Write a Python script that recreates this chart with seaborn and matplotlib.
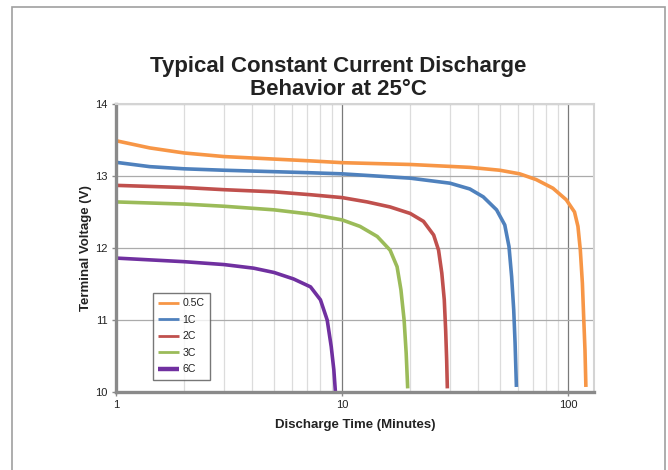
import seaborn as sns
import pandas as pd
import numpy as np
import matplotlib
matplotlib.use("Agg")
import matplotlib.pyplot as plt
from matplotlib.patches import Rectangle
from matplotlib.ticker import LogLocator, FixedLocator, NullFormatter

# discharge curves (minutes, volts)
rates = ["0.5C", "1C", "2C", "3C", "6C"]
colors = ["#F79646", "#4F81BD", "#C0504D", "#9BBB59", "#7030A0"]

t_05c = [1, 1.41, 2, 3, 5, 7.25, 10, 20, 36.7, 49.8, 61, 72.2, 85.6, 98, 106.6, 110.4, 113.1, 115.5, 117, 118.6, 119.7]
v_05c = [13.49, 13.39, 13.32, 13.27, 13.235, 13.21, 13.185, 13.16, 13.12, 13.08, 13.03, 12.95, 12.83, 12.67, 12.5, 12.3, 11.97, 11.51, 11.05, 10.58, 10.07]

t_1c = [1, 1.41, 2, 3, 5, 7.25, 10, 20, 30, 36.7, 42.1, 48.2, 52.4, 54.7, 56.2, 57.4, 58.2, 59.0]
v_1c = [13.19, 13.13, 13.1, 13.08, 13.06, 13.045, 13.03, 12.97, 12.9, 12.82, 12.71, 12.53, 12.32, 12.02, 11.6, 11.14, 10.68, 10.07]

t_2c = [1, 2, 3, 5, 7.25, 10, 12.9, 16.3, 20, 22.9, 25.4, 26.7, 27.6, 28.3, 28.7, 29.0, 29.2]
v_2c = [12.87, 12.84, 12.81, 12.78, 12.74, 12.7, 12.64, 12.57, 12.48, 12.37, 12.18, 11.97, 11.65, 11.28, 10.86, 10.44, 10.05]

t_3c = [1, 2, 3, 5, 7.25, 10, 12.0, 14.3, 16.3, 17.5, 18.2, 18.8, 19.2, 19.5]
v_3c = [12.64, 12.61, 12.58, 12.53, 12.47, 12.39, 12.3, 12.16, 11.97, 11.74, 11.42, 11.0, 10.54, 10.05]

t_6c = [1, 2, 3, 4.06, 5.0, 6.1, 7.25, 8.02, 8.59, 8.95, 9.19, 9.34]
v_6c = [11.86, 11.81, 11.77, 11.72, 11.66, 11.57, 11.46, 11.28, 11.0, 10.63, 10.31, 10.0]

y_ticks = [10, 11, 12, 13, 14]
x_ticks = [1, 10, 100]

frames = []
for name, t, v in zip(rates, [t_05c, t_1c, t_2c, t_3c, t_6c], [v_05c, v_1c, v_2c, v_3c, v_6c]):
    frames.append(pd.DataFrame({"time": t, "voltage": v, "rate": name}))
df = pd.concat(frames, ignore_index=True)

sns.set_theme(style="white")
plt.rcParams["font.family"] = ["Liberation Sans", "DejaVu Sans"]

fig = plt.figure(figsize=(6.68, 4.70), dpi=100)
ax = fig.add_axes([116 / 668, 78 / 470, 478 / 668, 288 / 470])

sns.lineplot(data=df, x="time", y="voltage", hue="rate", hue_order=rates,
             palette=colors, linewidth=2.6, estimator=None, sort=False, ax=ax)
for line in ax.get_lines():
    line.set_solid_joinstyle("round")
    line.set_solid_capstyle("butt")

ax.set_xscale("log")
ax.set_xlim(1, 130)
ax.set_ylim(10, 14)
ax.set_yticks(y_ticks)
ax.xaxis.set_major_locator(FixedLocator(x_ticks))
ax.set_xticklabels([str(x) for x in x_ticks])
ax.xaxis.set_minor_locator(LogLocator(base=10, subs=np.arange(2, 10)))
ax.xaxis.set_minor_formatter(NullFormatter())

# grid
ax.grid(axis="y", which="major", color="#ababab", linewidth=0.9)
ax.grid(axis="x", which="major", color="#7a7a7a", linewidth=0.9)
ax.grid(axis="x", which="minor", color="#dcdcdc", linewidth=0.9)
ax.set_axisbelow(True)

for side in ["left", "bottom"]:
    ax.spines[side].set_color("#8a8a8a")
    ax.spines[side].set_linewidth(2.4)
for side in ["top", "right"]:
    ax.spines[side].set_color("#d4d4d4")
    ax.spines[side].set_linewidth(1.5)

ax.tick_params(axis="both", which="major", labelsize=8, colors="#8a8a8a",
               labelcolor="#222222", length=3, width=1, direction="out", pad=3)
ax.tick_params(axis="x", which="minor", length=0)
ax.tick_params(left=True, bottom=True)

ax.set_xlabel("Discharge Time (Minutes)", fontsize=9.5, fontweight="bold", color="#222222", labelpad=6)
ax.set_ylabel("Terminal Voltage (V)", fontsize=9.5, fontweight="bold", color="#222222", labelpad=2)

# legend
handles, labels = ax.get_legend_handles_labels()
for h in handles:
    h.set_linewidth(2.0)
handles[-1].set_linewidth(3.2)
leg = ax.legend(handles, labels, loc="upper left", bbox_to_anchor=(0.077, 0.344),
                fontsize=7.6, frameon=True, fancybox=False, handlelength=2.0,
                handletextpad=0.3, labelspacing=0.62, borderpad=0.5, borderaxespad=0)
leg.get_frame().set_edgecolor("#555555")
leg.get_frame().set_linewidth(1.0)
for txt in leg.get_texts():
    txt.set_color("#222222")

# title
fig.text(338 / 668, 1 - 72 / 470, "Typical Constant Current Discharge", ha="center", va="baseline",
         fontsize=16, fontweight="bold", color="#222222")
fig.text(338 / 668, 1 - 95 / 470, "Behavior at 25°C", ha="center", va="baseline",
         fontsize=16, fontweight="bold", color="#222222")

# outer frame
fig.patches.append(Rectangle((12 / 668, -0.05), (665 - 12) / 668, 1.05 - 7 / 470,
                             transform=fig.transFigure, fill=False, edgecolor="#a0a0a0",
                             linewidth=1.2, clip_on=False))

fig.savefig("out.png", dpi=100)
